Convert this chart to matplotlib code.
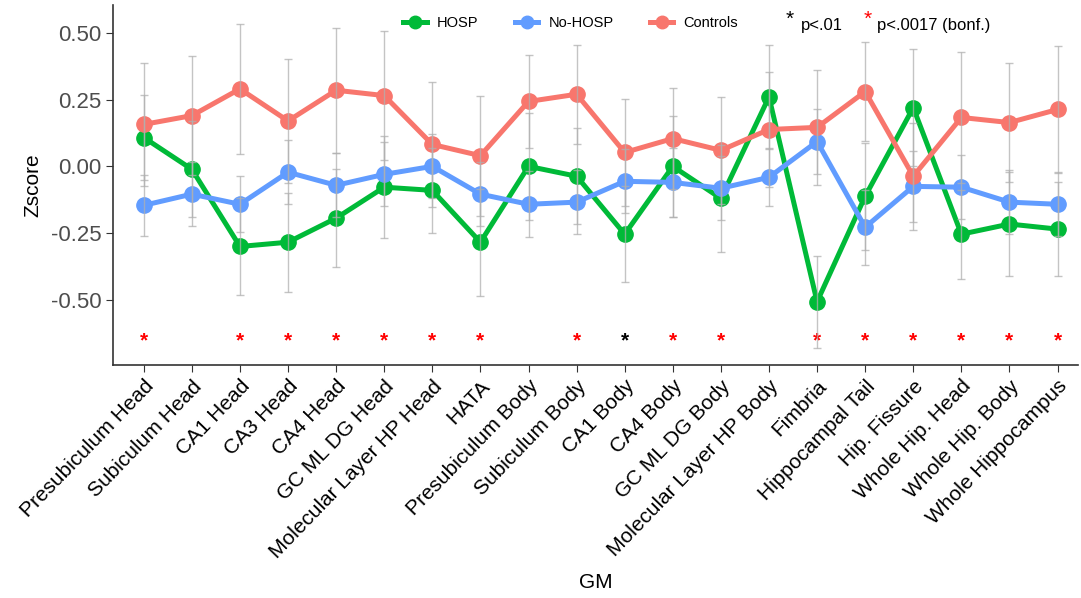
import numpy as np
import matplotlib
matplotlib.use('Agg')
import matplotlib.pyplot as plt
from matplotlib.lines import Line2D

plt.rcParams['font.family'] = ['Liberation Sans', 'DejaVu Sans']

# regions on the x axis
regions = ['Presubiculum Head', 'Subiculum Head', 'CA1 Head', 'CA3 Head', 'CA4 Head',
           'GC ML DG Head', 'Molecular Layer HP Head', 'HATA', 'Presubiculum Body',
           'Subiculum Body', 'CA1 Body', 'CA4 Body', 'GC ML DG Body',
           'Molecular Layer HP Body', 'Fimbria', 'Hippocampal Tail', 'Hip. Fissure',
           'Whole Hip. Head', 'Whole Hip. Body', 'Whole Hippocampus']

# mean z-scores per group
hosp = [0.108, -0.011, -0.30, -0.284, -0.194, -0.078, -0.09, -0.284, 0.0, -0.037,
        -0.254, 0.0, -0.12, 0.26, -0.507, -0.112, 0.22, -0.254, -0.216, -0.235]
nohosp = [-0.146, -0.104, -0.142, -0.022, -0.071, -0.03, 0.0, -0.104, -0.142, -0.134,
          -0.056, -0.06, -0.082, -0.041, 0.093, -0.228, -0.075, -0.078, -0.134, -0.142]
controls = [0.157, 0.19, 0.29, 0.17, 0.285, 0.265, 0.082, 0.04, 0.243, 0.27,
            0.052, 0.104, 0.06, 0.138, 0.146, 0.28, -0.037, 0.183, 0.164, 0.213]

# error bar half widths
hosp_err = [0.16, 0.18, 0.18, 0.186, 0.183, 0.19, 0.16, 0.2, 0.2, 0.18,
            0.18, 0.19, 0.2, 0.195, 0.172, 0.2, 0.22, 0.167, 0.195, 0.175]
nohosp_err = [0.115, 0.12, 0.105, 0.12, 0.12, 0.12, 0.12, 0.12, 0.123, 0.12,
              0.12, 0.13, 0.12, 0.108, 0.12, 0.14, 0.134, 0.12, 0.12, 0.12]
controls_err = [0.23, 0.224, 0.244, 0.233, 0.234, 0.24, 0.235, 0.225, 0.175, 0.185,
                0.2, 0.19, 0.2, 0.216, 0.216, 0.186, 0.2, 0.247, 0.224, 0.238]

# significance markers: 'r' = p<.0017 (bonf.), 'k' = p<.01, '' = none
sig = ['r', '', 'r', 'r', 'r', 'r', 'r', 'r', '', 'r',
       'k', 'r', 'r', '', 'r', 'r', 'r', 'r', 'r', 'r']

col_hosp = '#00BA38'
col_nohosp = '#619CFF'
col_ctrl = '#F8766D'

fig = plt.figure(figsize=(10.81, 5.98), dpi=100)
ax = fig.add_axes([0.1045, 0.39, 0.8925, 0.602])

x = np.arange(1, len(regions) + 1)

for vals, c, lab in [(hosp, col_hosp, 'HOSP'), (nohosp, col_nohosp, 'No-HOSP'),
                     (controls, col_ctrl, 'Controls')]:
    ax.plot(x, vals, color=c, lw=3.6, marker='o', ms=11, label=lab, zorder=3)

for vals, err in [(hosp, hosp_err), (nohosp, nohosp_err), (controls, controls_err)]:
    ax.errorbar(x, vals, yerr=err, fmt='none', ecolor='#b0b0b0', elinewidth=1,
                capsize=3, capthick=1, alpha=0.75, zorder=4)

for xi, s in zip(x, sig):
    if s:
        ax.text(xi, -0.655, '*', color='red' if s == 'r' else 'black',
                ha='center', va='center', fontsize=15, fontweight='bold')

ax.set_xlim(0.36, 20.42)
ax.set_ylim(-0.743, 0.605)
ax.set_yticks([-0.5, -0.25, 0, 0.25, 0.5])
ax.set_yticklabels(['-0.50', '-0.25', '0.00', '0.25', '0.50'])
ax.set_xticks(x)
ax.set_xticklabels(regions, rotation=46, ha='right', rotation_mode='anchor')

ax.spines['top'].set_visible(False)
ax.spines['right'].set_visible(False)
for sp in ['left', 'bottom']:
    ax.spines[sp].set_color('#333333')
    ax.spines[sp].set_linewidth(1.2)
ax.tick_params(axis='y', labelsize=16, colors='#333333', labelcolor='#4d4d4d', length=5)
ax.tick_params(axis='x', labelsize=15, colors='#333333', labelcolor='black', length=5)

ax.set_ylabel('Zscore', fontsize=15, labelpad=6)
ax.set_xlabel('GM', fontsize=15, labelpad=8)

handles = [Line2D([0], [0], color=col_hosp, lw=3.6, marker='o', ms=9),
           Line2D([0], [0], color=col_nohosp, lw=3.6, marker='o', ms=9),
           Line2D([0], [0], color=col_ctrl, lw=3.6, marker='o', ms=9)]
fig.legend(handles, ['HOSP', 'No-HOSP', 'Controls'], loc='center',
           bbox_to_anchor=(0.528, 0.962), ncol=3, frameon=False, fontsize=10.5,
           handlelength=1.6, handletextpad=0.7, columnspacing=2.5)

fig.text(0.727, 0.967, '*', color='black', fontsize=15, ha='left', va='center')
fig.text(0.741, 0.958, 'p<.01', color='black', fontsize=12, ha='left', va='center')
fig.text(0.799, 0.967, '*', color='red', fontsize=15, ha='left', va='center')
fig.text(0.811, 0.958, 'p<.0017 (bonf.)', color='black', fontsize=12, ha='left', va='center')

fig.savefig('out.png', dpi=100)
